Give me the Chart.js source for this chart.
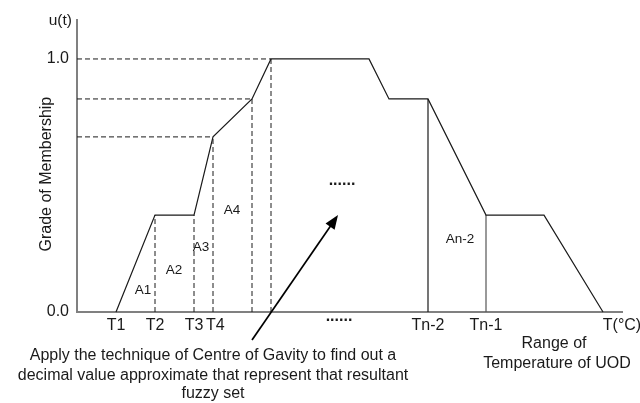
<!DOCTYPE html>
<html>
<head>
<meta charset="utf-8">
<script src="https://cdn.jsdelivr.net/npm/chart.js@4.4.1/dist/chart.umd.min.js"></script>
<style>
  html, body { margin: 0; padding: 0; background: #ffffff; }
  #wrap { width: 640px; height: 403px; }
</style>
</head>
<body>
<div id="wrap"><canvas id="c" width="640" height="403"></canvas></div>
<script>
// ---- data (temperature in arbitrary units of the UOD, membership 0..1) ----
const tempPoints = [7.8, 15.6, 23.4, 27.2, 35, 38.8, 58.4, 62.4, 70.2, 81.8, 93.4, 105.2];
const membership = [0, 0.383, 0.383, 0.692, 0.842, 1, 1, 0.842, 0.842, 0.383, 0.383, 0];
const dashedVerticalIdx = [1, 2, 3, 4, 5];
const dashedHorizontalIdx = [3, 4, 5];
const solidVerticalIdx = [8, 9];

const xTickValues = [7.8, 15.6, 23.4, 27.2, 70.2, 81.8, 109];
const xTickLabels = ['T1', 'T2', 'T3', ' T4', 'Tn-2', 'Tn-1', 'T(°C)'];
const yTickValues = [0, 1];
const xRange = [0, 109];
const yRange = [0, 1.154];

const areaLabels = ['A1', 'A2', 'A3', 'A4', 'An-2'];
const areaLabelX = [13.2, 19.4, 24.8, 31, 76.6];
const areaLabelY = [0.087, 0.166, 0.257, 0.403, 0.289];

const FONT = '"Liberation Sans", Arial, sans-serif';
const INK = '#1a1a1a';

// build datasets from the arrays
const pts = tempPoints.map((t, i) => ({ x: t, y: membership[i] }));
const datasets = [];
datasets.push({ data: pts, borderColor: INK, borderWidth: 1.2, pointRadius: 0, showLine: true, tension: 0 });
dashedVerticalIdx.forEach(i => {
  datasets.push({ data: [{ x: tempPoints[i], y: 0 }, { x: tempPoints[i], y: membership[i] }],
    borderColor: INK, borderWidth: 1, borderDash: [5, 3], pointRadius: 0, showLine: true });
});
dashedHorizontalIdx.forEach(i => {
  datasets.push({ data: [{ x: xRange[0], y: membership[i] }, { x: tempPoints[i], y: membership[i] }],
    borderColor: INK, borderWidth: 1, borderDash: [5, 3], pointRadius: 0, showLine: true });
});
solidVerticalIdx.forEach((i, k) => {
  datasets.push({ data: [{ x: tempPoints[i], y: 0 }, { x: tempPoints[i], y: membership[i] }],
    borderColor: k === 0 ? INK : '#555555', borderWidth: 1.2, pointRadius: 0, showLine: true });
});

const annotations = {
  id: 'annotations',
  afterDraw(chart) {
    const ctx = chart.ctx;
    const xs = chart.scales.x, ys = chart.scales.y;
    const px = v => xs.getPixelForValue(v);
    const py = v => ys.getPixelForValue(v);
    ctx.save();
    ctx.fillStyle = INK;
    ctx.textBaseline = 'middle';
    // area labels
    ctx.font = '13.5px ' + FONT;
    ctx.textAlign = 'center';
    areaLabels.forEach((l, i) => ctx.fillText(l, px(areaLabelX[i]), py(areaLabelY[i])));
    // ellipses
    ctx.font = 'bold 16px ' + FONT;
    ctx.fillText('......', px(53), py(0.52));
    ctx.fillText('......', px(52.4), py(-0.02));
    // u(t)
    ctx.font = '15.5px ' + FONT;
    ctx.textAlign = 'right';
    ctx.fillText('u(t)', px(-1), py(yRange[1]) + 1);
    // y axis title
    ctx.font = '16px ' + FONT;
    ctx.save();
    ctx.translate(px(-6), py(0.545));
    ctx.rotate(-Math.PI / 2);
    ctx.textAlign = 'center';
    ctx.fillText('Grade of Membership', 0, 0);
    ctx.restore();
    // bottom annotation text
    ctx.textAlign = 'center';
    ctx.fillText('Apply the technique of Centre of Gavity to find out a', px(27.2), py(-0.174));
    ctx.fillText('decimal value approximate that represent that resultant', px(27.2), py(-0.253));
    ctx.fillText('fuzzy set', px(27.2), py(-0.324));
    ctx.fillText('Range of', px(95.4), py(-0.123));
    ctx.fillText('Temperature of UOD', px(96), py(-0.202));
    // arrow
    const x0 = px(35), y0 = py(-0.111), x1 = px(52.2), y1 = py(0.383);
    const ang = Math.atan2(y1 - y0, x1 - x0);
    ctx.strokeStyle = '#000';
    ctx.lineWidth = 1.7;
    ctx.beginPath();
    ctx.moveTo(x0, y0);
    ctx.lineTo(x1 - 8 * Math.cos(ang), y1 - 8 * Math.sin(ang));
    ctx.stroke();
    ctx.fillStyle = '#000';
    ctx.beginPath();
    ctx.moveTo(x1, y1);
    ctx.lineTo(x1 - 14 * Math.cos(ang) + 5.5 * Math.sin(ang), y1 - 14 * Math.sin(ang) - 5.5 * Math.cos(ang));
    ctx.lineTo(x1 - 14 * Math.cos(ang) - 5.5 * Math.sin(ang), y1 - 14 * Math.sin(ang) + 5.5 * Math.cos(ang));
    ctx.closePath();
    ctx.fill();
    ctx.restore();
  }
};

new Chart(document.getElementById('c'), {
  type: 'scatter',
  data: { datasets },
  options: {
    responsive: false,
    animation: false,
    clip: false,
    layout: { padding: { left: 0, right: 18, top: 20, bottom: 0 } },
    plugins: { legend: { display: false }, tooltip: { enabled: false } },
    scales: {
      x: {
        type: 'linear', min: xRange[0], max: xRange[1],
        afterFit(s) { s.height = 91; s.paddingLeft = 0; s.paddingRight = 0; },
        afterBuildTicks(s) { s.ticks = xTickValues.map(v => ({ value: v })); },
        ticks: {
          autoSkip: false, maxRotation: 0, padding: 4, color: INK,
          font: { family: FONT, size: 16 },
          callback: (v, i) => xTickLabels[i]
        },
        grid: { drawOnChartArea: false, drawTicks: false, color: 'rgba(0,0,0,0)' },
        border: { display: true, color: '#808080', width: 2 }
      },
      y: {
        type: 'linear', min: yRange[0], max: yRange[1],
        afterFit(s) { s.width = 77; s.paddingTop = 0; s.paddingBottom = 0; },
        afterBuildTicks(s) { s.ticks = yTickValues.map(v => ({ value: v })); },
        ticks: {
          padding: 8, color: INK,
          font: { family: FONT, size: 16 },
          callback: v => Number(v).toFixed(1)
        },
        grid: { drawOnChartArea: false, drawTicks: false, color: 'rgba(0,0,0,0)' },
        border: { display: true, color: '#808080', width: 2 }
      }
    }
  },
  plugins: [annotations]
});
</script>
</body>
</html>
